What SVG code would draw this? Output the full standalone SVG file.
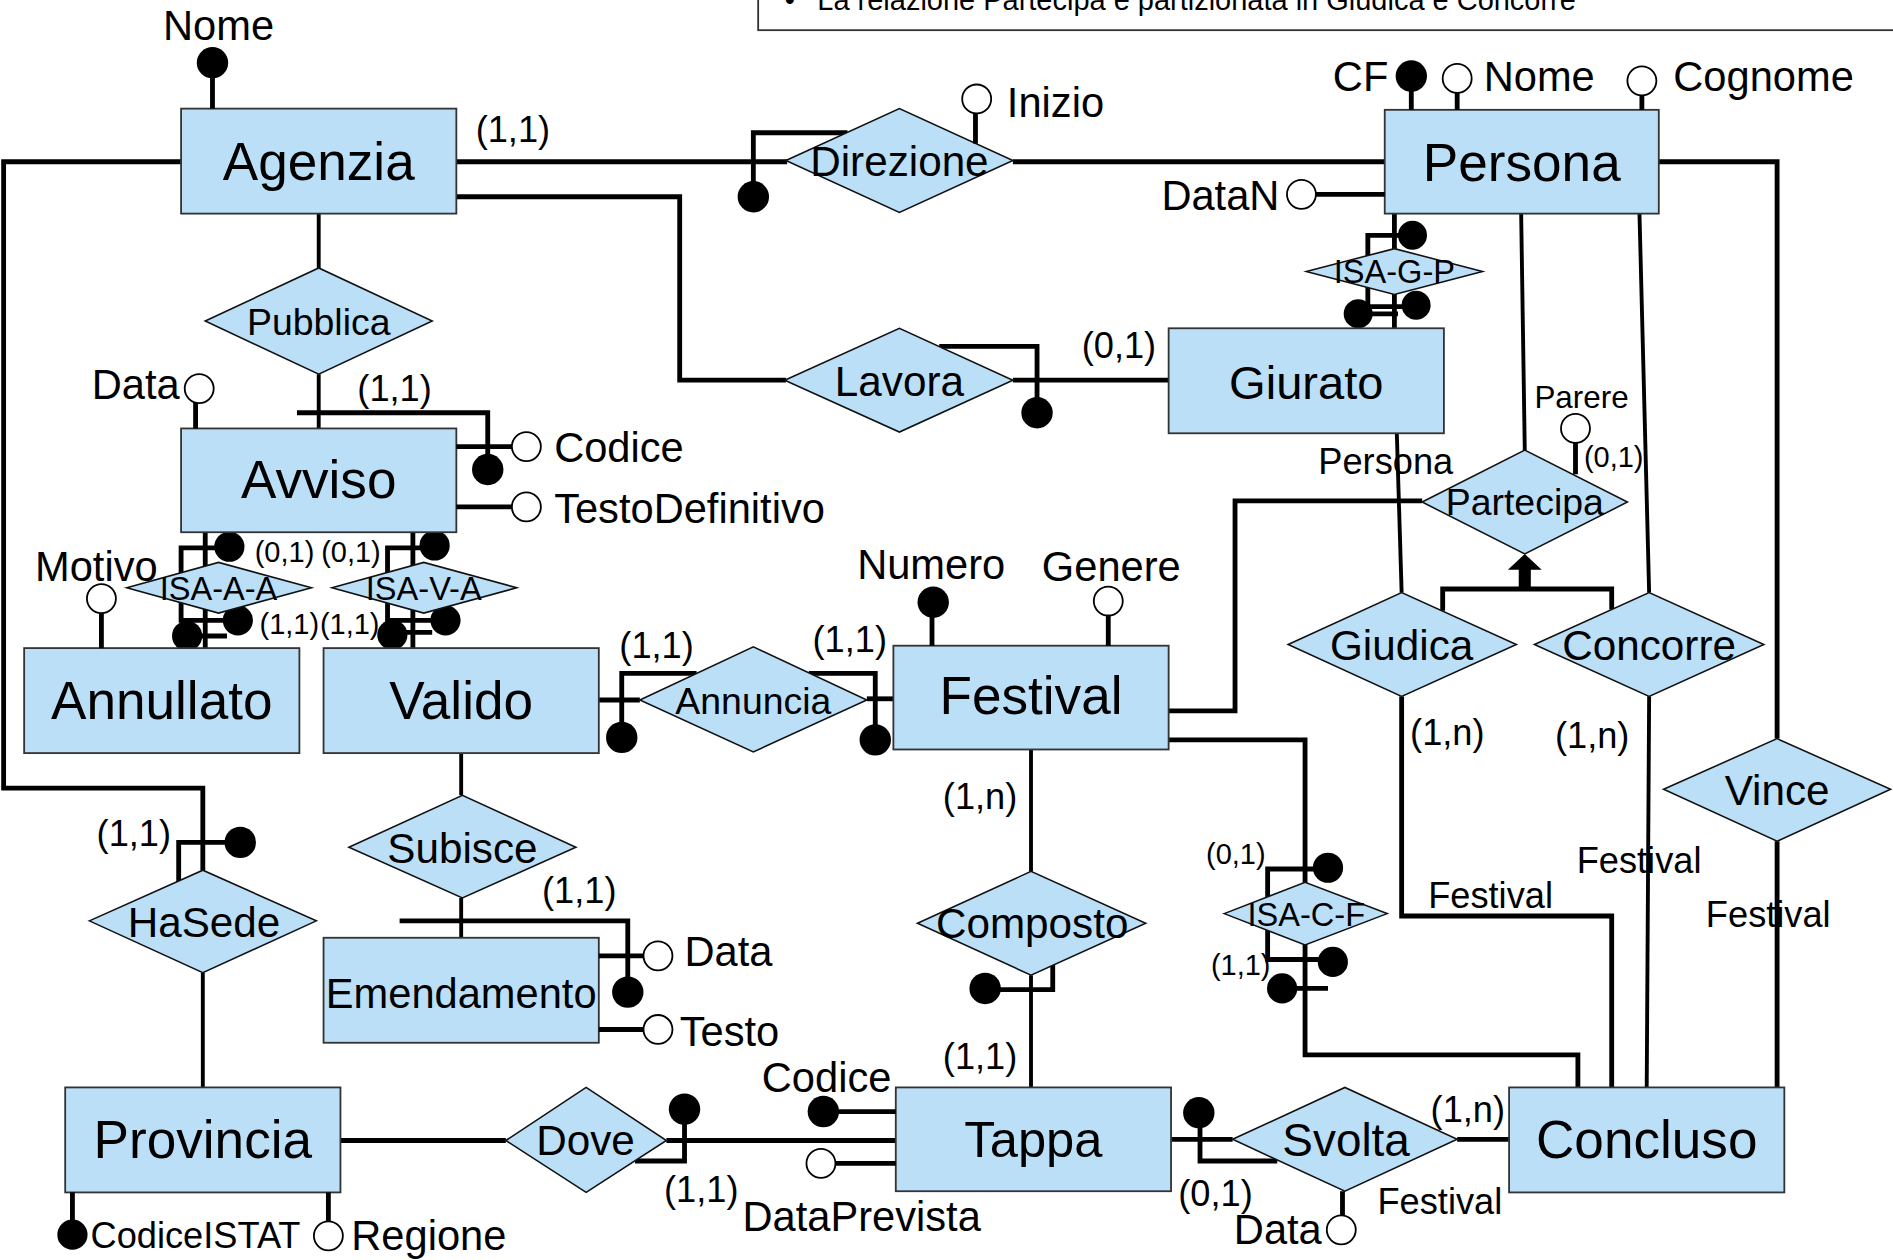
<svg xmlns="http://www.w3.org/2000/svg" width="1893" height="1260" viewBox="0 0 1893 1260">
<style>
.ent{fill:#BBDFF7;stroke:#333;stroke-width:1.5}
.rel{fill:#BBDFF7;stroke:#111;stroke-width:1.3}
.ln{fill:none;stroke:#000;stroke-width:4;stroke-linejoin:miter;stroke-linecap:butt}
.tn{fill:none;stroke:#000;stroke-width:3.2}
.k{fill:#000}
.o{fill:#fff;stroke:#000;stroke-width:1.5}
text{font-family:"Liberation Sans",Arial,Helvetica,sans-serif;fill:#000}
.en{font-size:44px;text-anchor:middle}
.rl{font-size:35px;text-anchor:middle}
.rs{font-size:31px;text-anchor:middle}
.isa{font-size:27px;text-anchor:middle}
.at{font-size:34.5px}
.cd{font-size:30px}
.cs{font-size:24px}
</style>
<rect width="1893" height="1260" fill="#fff"/>
<g transform="scale(1.20727 1.2069)">
<g id="note">
<rect x="628" y="-60" width="1000" height="85" fill="#fff" stroke="#333" stroke-width="1.5"/>
<text x="650" y="8" style="font-size:24px">•</text>
<text x="677" y="8.5" style="font-size:24px">La relazione Partecipa è partizionata in Giudica e Concorre</text>
</g>
<g id="connectors">
<path class="ln" d="M150,134 H3 V653 H168 V721"/>
<path class="ln" d="M148,731 V698 H190"/><circle class="k" cx="199" cy="698" r="13"/>
<path class="ln" d="M378,134 H652"/>
<path class="ln" d="M702,110 H624 V152"/><circle class="k" cx="624" cy="163" r="13"/>
<path class="ln" d="M839,134 H1147"/>
<path class="ln" d="M378,163 H563 V315 H651"/>
<path class="ln" d="M778,287 H859 V332"/><circle class="k" cx="859" cy="342" r="13"/>
<path class="ln" d="M839,315 H968"/>
<path class="tn" d="M264,177 V222 M264,310 V355"/>
<path class="ln" d="M246,342 H404 V380"/><circle class="k" cx="404" cy="389" r="13"/>
<path class="ln" d="M170,441 V537"/>
<path class="ln" d="M190,454 H150 V514 H197"/><circle class="k" cx="190" cy="453" r="12.5"/><circle class="k" cx="197" cy="514" r="12.5"/>
<path class="ln" d="M155,527 H188"/><circle class="k" cx="155" cy="527" r="12.5"/>
<path class="ln" d="M342,441 V537"/>
<path class="ln" d="M360,454 H321 V514 H369"/><circle class="k" cx="360" cy="452" r="12.5"/><circle class="k" cx="369" cy="514" r="12.5"/>
<path class="ln" d="M325,524 H358"/><circle class="k" cx="325" cy="526" r="12.5"/>
<path class="ln" d="M496,580 H530"/>
<path class="ln" d="M577,558 H515 V605"/><circle class="k" cx="515" cy="611" r="13"/>
<path class="ln" d="M718,579 H740"/>
<path class="ln" d="M670,558 H725 V605"/><circle class="k" cx="725" cy="613" r="13"/>
<path class="tn" d="M382,624 V659 M382,744 V777"/>
<path class="ln" d="M331,763 H520 V815"/><circle class="k" cx="520" cy="822" r="13"/>
<path class="tn" d="M168,806 V901"/>
<path class="ln" d="M282,945 H419 M552,945 H742"/>
<path class="ln" d="M567,919 V962 H526"/><circle class="k" cx="567" cy="919" r="13"/>
<path class="tn" d="M854,621 V722 M854,808 V901"/>
<path class="ln" d="M872,799 V820 H816"/><circle class="k" cx="816" cy="819" r="13"/>
<path class="ln" d="M968,613 H1081 V874 H1307 V901"/>
<path class="ln" d="M1100,720 H1050 V795 H1104"/><circle class="k" cx="1100" cy="719" r="12.5"/><circle class="k" cx="1104" cy="797" r="12.5"/>
<path class="ln" d="M1062,819 H1100"/><circle class="k" cx="1062" cy="819" r="12.5"/>
<path class="ln" d="M968,589 H1023 V415 H1178"/>
<path class="tn" d="M1157,359 L1161,491"/>
<path class="tn" d="M1260,177 L1263,373"/>
<path class="tn" d="M1358,177 L1366,491"/>
<path class="ln" d="M1374,134 H1472 V612"/>
<path class="ln" d="M1195,506 V488 H1335 V505"/>
<polygon class="k" points="1263,459 1277,472 1268,472 1268,488 1258,488 1258,472 1249,472"/>
<path class="ln" d="M1161,577 V759 H1335 V901"/>
<path class="tn" d="M1366,577 L1364,901"/>
<path class="ln" d="M1472,697 V901"/>
<path class="ln" d="M970,944 H1021 M1207,944 H1250"/>
<path class="ln" d="M994,922 V962 H1058"/><circle class="k" cx="993" cy="922" r="13"/>
<path class="ln" d="M1155,177 V272"/>
<path class="ln" d="M1170,195 H1133 V254 H1173"/><circle class="k" cx="1170" cy="195" r="12"/><circle class="k" cx="1173" cy="253" r="12"/>
<path class="ln" d="M1125,260 H1158"/><circle class="k" cx="1125" cy="260" r="12"/>
</g>
<g id="agenzia"><rect class="ent" x="150" y="90" width="228" height="87"/><text class="en" x="264" y="149.5">Agenzia</text></g>
<g id="persona"><rect class="ent" x="1147" y="91" width="227" height="86"/><text class="en" x="1260.5" y="150">Persona</text></g>
<g id="giurato"><rect class="ent" x="968" y="272" width="228" height="87"/><text class="en" x="1082" y="331" style="font-size:39px">Giurato</text></g>
<g id="avviso"><rect class="ent" x="150" y="355" width="228" height="86"/><text class="en" x="264" y="413">Avviso</text></g>
<g id="annullato"><rect class="ent" x="20" y="537" width="228" height="87"/><text class="en" x="134" y="596">Annullato</text></g>
<g id="valido"><rect class="ent" x="268" y="537" width="228" height="87"/><text class="en" x="382" y="596">Valido</text></g>
<g id="festival"><rect class="ent" x="740" y="535" width="228" height="86"/><text class="en" x="854" y="592">Festival</text></g>
<g id="emendamento"><rect class="ent" x="268" y="777" width="228" height="87"/><text class="en" x="382" y="835" style="font-size:34.5px">Emendamento</text></g>
<g id="provincia"><rect class="ent" x="54" y="901" width="228" height="87"/><text class="en" x="168" y="959.5">Provincia</text></g>
<g id="tappa"><rect class="ent" x="742" y="901" width="228" height="86"/><text class="en" x="856" y="959" style="font-size:42px">Tappa</text></g>
<g id="concluso"><rect class="ent" x="1250" y="901" width="228" height="87"/><text class="en" x="1364" y="959.5">Concluso</text></g>
<g id="direzione"><polygon class="rel" points="651,133 745,90 839,133 745,176"/><text class="rl" x="745" y="146">Direzione</text></g>
<g id="pubblica"><polygon class="rel" points="170,266 264,222 358,266 264,310"/><text class="rs" x="264" y="277.5">Pubblica</text></g>
<g id="lavora"><polygon class="rel" points="650,315 745,272 839,315 745,358"/><text class="rl" x="745" y="328">Lavora</text></g>
<g id="isa-g-p"><polygon class="rel" points="1082,225 1155,206 1228,225 1155,244"/><text class="isa" x="1155" y="234.5">ISA-G-P</text></g>
<g id="partecipa"><polygon class="rel" points="1178,416 1263,373 1348,416 1263,459"/><text class="rs" x="1263" y="426.5">Partecipa</text></g>
<g id="isa-a-a"><polygon class="rel" points="105,487 181,466 258,487 181,508"/><text class="isa" x="181" y="497">ISA-A-A</text></g>
<g id="isa-v-a"><polygon class="rel" points="275,487 351,466 428,487 351,508"/><text class="isa" x="351" y="497">ISA-V-A</text></g>
<g id="giudica"><polygon class="rel" points="1067,534 1161,491 1256,534 1161,577"/><text class="rl" x="1161" y="546.5">Giudica</text></g>
<g id="concorre"><polygon class="rel" points="1271,534 1366,491 1461,534 1366,577"/><text class="rl" x="1366" y="547">Concorre</text></g>
<g id="annuncia"><polygon class="rel" points="530,580 624,536 718,580 624,623"/><text class="rs" x="624" y="592">Annuncia</text></g>
<g id="vince"><polygon class="rel" points="1378,654 1472,612 1566,654 1472,697"/><text class="rl" x="1472" y="667">Vince</text></g>
<g id="subisce"><polygon class="rel" points="289,702 383,659 477,702 383,744"/><text class="rl" x="383" y="715">Subisce</text></g>
<g id="composto"><polygon class="rel" points="760,765 854,722 949,765 854,808"/><text class="rl" x="855" y="777">Composto</text></g>
<g id="isa-c-f"><polygon class="rel" points="1014,757 1081,731 1149,757 1081,783"/><text class="isa" x="1082" y="767">ISA-C-F</text></g>
<g id="hasede"><polygon class="rel" points="74,763 168,721 262,763 168,806"/><text class="rl" x="169" y="776">HaSede</text></g>
<g id="dove"><polygon class="rel" points="419,945 485.5,901 552,945 485.5,988"/><text class="rl" x="485" y="957">Dove</text></g>
<g id="svolta"><polygon class="rel" points="1021,944 1114,901 1207,944 1114,987"/><text class="rl" x="1115" y="958" style="font-size:38px">Svolta</text></g>
<g id="attributes">
<line class="ln" x1="176" y1="64" x2="176" y2="90"/><circle class="k" cx="176" cy="52" r="13"/>
<line class="ln" x1="808" y1="119" x2="808" y2="93"/><circle class="o" cx="809" cy="82" r="12"/>
<line class="ln" x1="1169" y1="72" x2="1169" y2="91"/><circle class="k" cx="1169" cy="63" r="13"/>
<line class="ln" x1="1207" y1="76" x2="1207" y2="91"/><circle class="o" cx="1207" cy="65" r="12"/>
<line class="ln" x1="1360" y1="79" x2="1360" y2="91"/><circle class="o" cx="1360" cy="67" r="12"/>
<line class="ln" x1="1090" y1="161" x2="1147" y2="161"/><circle class="o" cx="1078" cy="161" r="12"/>
<line class="ln" x1="162" y1="333" x2="162" y2="355"/><circle class="o" cx="165" cy="322" r="12"/>
<line class="ln" x1="378" y1="370" x2="424" y2="370"/><circle class="o" cx="436" cy="370" r="12"/>
<line class="ln" x1="378" y1="420" x2="424" y2="420"/><circle class="o" cx="436" cy="420" r="12"/>
<line class="ln" x1="84" y1="508" x2="84" y2="537"/><circle class="o" cx="84" cy="496" r="12"/>
<line class="ln" x1="772" y1="510" x2="772" y2="535"/><circle class="k" cx="773" cy="499" r="13"/>
<line class="ln" x1="918" y1="510" x2="918" y2="535"/><circle class="o" cx="918" cy="498" r="12"/>
<line class="ln" x1="496" y1="792" x2="533" y2="792"/><circle class="o" cx="545" cy="792" r="12"/>
<line class="ln" x1="496" y1="853" x2="533" y2="853"/><circle class="o" cx="545" cy="853" r="12"/>
<line class="ln" x1="60" y1="988" x2="60" y2="1012"/><circle class="k" cx="60" cy="1023" r="12.5"/>
<line class="ln" x1="272" y1="988" x2="272" y2="1012"/><circle class="o" cx="272" cy="1024" r="12"/>
<line class="ln" x1="682" y1="921" x2="742" y2="921"/><circle class="k" cx="682" cy="921" r="13"/>
<line class="ln" x1="692" y1="964" x2="742" y2="964"/><circle class="o" cx="680" cy="964" r="12"/>
<line class="ln" x1="1305" y1="393" x2="1305" y2="367"/><circle class="o" cx="1305" cy="355" r="12"/>
<line class="ln" x1="1112" y1="987" x2="1112" y2="1007"/><circle class="o" cx="1111" cy="1019" r="12"/>
</g>
<g id="labels">
<text class="at" x="135" y="33">Nome</text>
<text class="cd" x="394" y="118">(1,1)</text>
<text class="at" x="834" y="97">Inizio</text>
<text class="at" x="1104" y="75">CF</text>
<text class="at" x="1229" y="75">Nome</text>
<text class="at" x="1386" y="75">Cognome</text>
<text class="at" x="962" y="174">DataN</text>
<text class="cd" x="896" y="297">(0,1)</text>
<text class="at" x="76" y="331">Data</text>
<text class="cd" x="296" y="332">(1,1)</text>
<text class="at" x="459" y="383">Codice</text>
<text class="at" x="459" y="433">TestoDefinitivo</text>
<text class="at" x="29" y="481">Motivo</text>
<text class="cs" x="211" y="466">(0,1)</text>
<text class="cs" x="266" y="466">(0,1)</text>
<text class="cs" x="215" y="525">(1,1)</text>
<text class="cs" x="265" y="525">(1,1)</text>
<text class="at" x="710" y="480">Numero</text>
<text class="at" x="863" y="481">Genere</text>
<text class="cd" x="513" y="545">(1,1)</text>
<text class="cd" x="673" y="540">(1,1)</text>
<text class="cd" x="1092" y="393">Persona</text>
<text x="1271" y="338" style="font-size:26px">Parere</text>
<text class="cs" x="1312" y="387">(0,1)</text>
<text class="cd" x="1168" y="617">(1,n)</text>
<text class="cd" x="1288" y="620">(1,n)</text>
<text class="cd" x="781" y="670">(1,n)</text>
<text class="cd" x="1183" y="752">Festival</text>
<text class="cd" x="1306" y="723">Festival</text>
<text class="cd" x="1413" y="768">Festival</text>
<text class="cs" x="999" y="716">(0,1)</text>
<text class="cs" x="1003" y="808">(1,1)</text>
<text class="cd" x="781" y="886">(1,1)</text>
<text class="cd" x="449" y="748">(1,1)</text>
<text class="cd" x="80" y="701">(1,1)</text>
<text class="at" x="567" y="800">Data</text>
<text class="at" x="563" y="867">Testo</text>
<text class="cd" x="550" y="996">(1,1)</text>
<text class="at" x="615" y="1020">DataPrevista</text>
<text class="at" x="631" y="905">Codice</text>
<text class="cd" x="75" y="1034">CodiceISTAT</text>
<text class="at" x="291" y="1036">Regione</text>
<text class="cd" x="976" y="999">(0,1)</text>
<text class="cd" x="1185" y="930">(1,n)</text>
<text class="at" x="1022" y="1031">Data</text>
<text class="cd" x="1141" y="1006">Festival</text>
</g>
</g>
</svg>
